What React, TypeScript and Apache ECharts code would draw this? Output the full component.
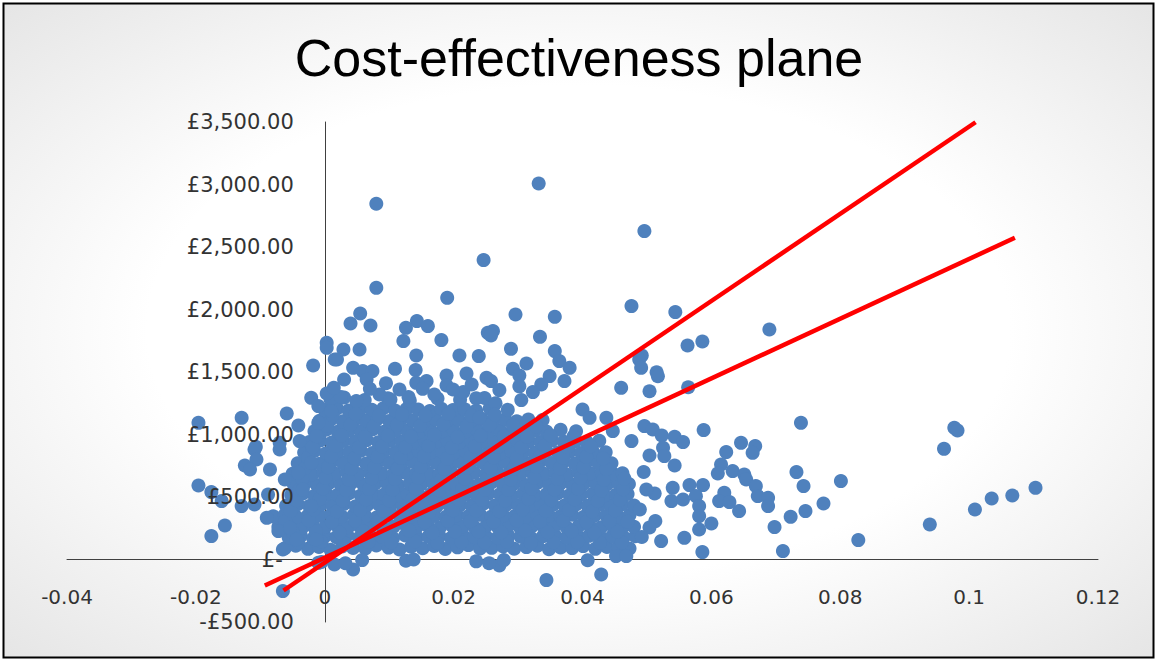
import React, { useEffect, useRef } from "react";
import * as echarts from "echarts";

// Points are [incremental QALYs x 1000, incremental cost in £]
const coreRow095 = [[-6.2,90],[-4.5,110],[-2.6,85],[-0.9,100],[0.9,78],[2.7,105],[4.4,92],[6.3,88],[8.0,112],[9.9,95],[11.6,80],[13.4,102],[15.2,90],[17.0,108],[18.7,84],[20.6,97],[22.3,115],[24.1,88],[25.9,93],[27.7,104],[29.4,86],[31.3,99],[33.0,110],[34.8,82],[36.6,96],[38.4,91],[40.1,107],[42.0,85],[43.8,100],[45.5,94],[47.3,88]];
const coreRow180 = [[-5.6,175],[-3.7,190],[-1.8,168],[0,185],[1.8,178],[3.5,195],[5.3,172],[7.1,186],[8.9,180],[10.6,170],[12.5,192],[14.3,177],[16.1,183],[17.8,188],[19.6,171],[21.4,196],[23.2,179],[25.0,184],[26.8,174],[28.5,190],[30.4,182],[32.1,169],[33.9,187],[35.7,193],[37.5,176],[39.3,181],[41.0,189],[42.9,173],[44.6,185],[46.4,178],[48.2,186]];
const coreRow265 = [[-7.2,260],[-5.3,272],[-3.5,255],[-1.8,268],[0.1,262],[1.8,275],[3.6,258],[5.4,266],[7.2,270],[9.0,254],[10.7,264],[12.5,278],[14.3,261],[16.0,269],[17.9,257],[19.7,273],[21.4,266],[23.2,259],[25.1,271],[26.8,263],[28.6,276],[30.3,256],[32.2,268],[34.0,262],[35.7,274],[37.5,260],[39.4,267],[41.1,271],[42.9,258],[44.7,265],[46.5,270],[48.0,262]];
const coreRow350 = [[-8.0,345],[-6.2,358],[-4.4,340],[-2.6,352],[-0.8,349],[1.0,360],[2.7,342],[4.5,355],[6.3,347],[8.1,338],[9.8,356],[11.6,351],[13.5,344],[15.2,359],[17.0,348],[18.8,341],[20.5,354],[22.3,346],[24.1,357],[25.9,343],[27.7,352],[29.5,348],[31.2,339],[33.0,355],[34.8,350],[36.6,346],[38.4,358],[40.2,342],[41.9,353],[43.7,349],[45.5,345],[47.3,356]];
const coreRow435 = [[-6.0,430],[-4.2,442],[-2.4,428],[-0.6,438],[1.2,432],[3.0,445],[4.8,426],[6.6,436],[8.4,440],[10.2,429],[12.0,444],[13.8,433],[15.6,437],[17.4,427],[19.2,441],[21.0,435],[22.8,430],[24.6,446],[26.4,431],[28.2,439],[30.0,434],[31.8,428],[33.6,443],[35.4,436],[37.2,432],[39.0,440],[40.8,429],[42.6,438],[44.4,434],[46.2,442],[48.0,431]];
const coreRow520 = [[-5.2,515],[-3.4,528],[-1.6,510],[0.3,522],[2.0,518],[3.8,530],[5.6,512],[7.5,524],[9.2,520],[11.1,508],[12.8,526],[14.6,517],[16.5,523],[18.2,513],[20.0,529],[21.8,519],[23.6,514],[25.4,527],[27.2,521],[29.0,511],[30.8,525],[32.6,516],[34.4,522],[36.2,531],[38.0,513],[39.8,520],[41.6,526],[43.4,512],[45.2,518],[47.0,524]];
const coreRow605 = [[-4.8,600],[-3.0,612],[-1.2,596],[0.6,608],[2.4,603],[4.2,615],[6.0,598],[7.8,606],[9.6,611],[11.4,594],[13.2,609],[15.0,602],[16.8,613],[18.6,597],[20.4,605],[22.2,610],[24.0,599],[25.8,614],[27.6,601],[29.4,607],[31.2,595],[33.0,612],[34.8,604],[36.6,609],[38.4,598],[40.2,606],[42.0,613],[43.8,600],[45.6,608],[47.2,603]];
const coreRow690 = [[-5.0,685],[-3.8,697],[-2.0,680],[-0.2,692],[1.6,688],[3.4,700],[5.2,683],[7.0,694],[8.8,689],[10.6,678],[12.4,696],[14.2,686],[16.0,691],[17.8,682],[19.6,699],[21.4,687],[23.2,693],[25.0,681],[26.8,695],[28.6,690],[30.4,684],[32.2,698],[34.0,686],[35.8,692],[37.6,680],[39.4,694],[41.2,689],[43.0,696],[44.8,683],[46.2,690]];
const coreRow775 = [[-4.2,770],[-2.6,782],[-0.8,766],[1.0,778],[2.8,773],[4.6,785],[6.4,768],[8.2,779],[10.0,774],[11.8,763],[13.6,781],[15.4,771],[17.2,777],[19.0,767],[20.8,784],[22.6,772],[24.4,778],[26.2,765],[28.0,780],[29.8,775],[31.6,769],[33.4,783],[35.2,771],[37.0,777],[38.8,766],[40.6,779],[42.4,774],[44.5,770]];
const coreRow860 = [[-3.2,855],[-1.6,868],[0.2,850],[2.0,862],[3.8,858],[5.6,870],[7.4,852],[9.2,864],[11.0,859],[12.8,848],[14.6,866],[16.4,856],[18.2,862],[20.0,851],[21.8,869],[23.6,857],[25.4,863],[27.2,850],[29.0,865],[30.8,860],[32.6,854],[34.4,868],[36.2,856],[38.0,861],[39.8,852],[41.6,864],[43.6,858]];
const coreRow945 = [[-2.4,940],[-0.7,952],[1.1,936],[2.9,948],[4.7,943],[6.5,955],[8.3,937],[10.1,949],[11.9,944],[13.7,933],[15.5,951],[17.3,941],[19.1,947],[20.9,936],[22.7,954],[24.5,942],[26.3,948],[28.1,935],[29.9,950],[31.7,945],[33.5,939],[35.3,953],[37.1,941],[38.9,946],[40.7,937],[42.6,949]];
const coreRow1030 = [[-1.6,1025],[0.2,1038],[2.0,1022],[3.8,1034],[5.6,1028],[7.4,1040],[9.2,1021],[11.0,1033],[12.8,1029],[14.6,1018],[16.4,1036],[18.2,1026],[20.0,1032],[21.8,1021],[23.6,1039],[25.4,1027],[27.2,1033],[29.0,1020],[30.8,1035],[32.6,1030],[34.4,1024],[36.6,1037],[39.0,1026]];
const coreRow1115 = [[-0.8,1110],[1.0,1122],[2.8,1106],[4.6,1118],[6.4,1113],[8.2,1125],[10.0,1107],[11.8,1119],[13.6,1114],[15.4,1103],[17.2,1121],[19.0,1111],[20.8,1117],[22.6,1106],[24.4,1124],[26.2,1112],[28.0,1118],[29.8,1105],[31.6,1120],[33.8,1115]];
const coreRow1200 = [[0.0,1195],[1.9,1208],[3.7,1191],[5.5,1203],[7.3,1198],[9.1,1210],[10.9,1192],[12.7,1204],[14.5,1199],[16.3,1188],[18.1,1206],[19.9,1196],[21.7,1202],[23.5,1191],[25.6,1209],[28.4,1197]];
const coreRow1285 = [[0.9,1280],[3.0,1295],[6.2,1275],[9.8,1290],[13.2,1270],[17.5,1288],[21.0,1278],[24.8,1292],[2.5,1300],[8.5,1320],[10.2,1280],[13.0,1300],[17.0,1320],[21.5,1340],[23.5,1290],[26.5,1250],[22.8,1400],[9.5,1410],[3.0,1440]];

// In-between points of the dense core
const fillLow = [[-4.1,135],[-0.5,142],[3.1,130],[6.8,140],[10.3,137],[14.0,145],[17.5,132],[21.2,139],[24.8,136],[28.3,143],[32.0,131],[35.5,138],[39.2,141],[42.7,134],[46.1,137],
  [-5.0,220],[-1.4,228],[2.3,215],[5.9,225],[9.4,218],[13.1,230],[16.7,214],[20.2,224],[23.9,221],[27.4,216],[31.1,229],[34.6,219],[38.3,226],[41.8,213],[45.4,222],
  [-6.1,305],[-2.5,312],[1.1,300],[4.7,309],[8.3,303],[11.9,315],[15.5,298],[19.1,308],[22.6,306],[26.2,301],[29.8,313],[33.4,304],[37.0,310],[40.6,299],[44.2,307],[47.0,302],
  [-5.3,390],[-1.7,398],[1.9,385],[5.5,395],[9.1,388],[12.7,400],[16.3,384],[19.9,394],[23.5,391],[27.1,386],[30.7,399],[34.3,389],[37.9,396],[41.5,383],[45.1,392]];
const fillMid = [[-4.4,475],[-0.8,483],[2.8,470],[6.4,480],[10.0,473],[13.6,485],[17.2,469],[20.8,479],[24.4,476],[28.0,471],[31.6,484],[35.2,474],[38.8,481],[42.4,468],[45.8,477],
  [-3.9,560],[-0.3,568],[3.3,555],[6.9,565],[10.5,558],[14.1,570],[17.7,554],[21.3,564],[24.9,561],[28.5,556],[32.1,569],[35.7,559],[39.3,566],[42.9,553],[46.3,562],
  [-3.5,645],[0.1,653],[3.7,640],[7.3,650],[10.9,643],[14.5,655],[18.1,639],[21.7,649],[25.3,646],[28.9,641],[32.5,654],[36.1,644],[39.7,651],[43.3,638],[46.5,647],
  [-3.1,730],[0.5,738],[4.1,725],[7.7,735],[11.3,728],[14.9,740],[18.5,724],[22.1,734],[25.7,731],[29.3,726],[32.9,739],[36.5,729],[40.1,736],[43.7,723]];
const fillHigh = [[-2.6,815],[1.0,823],[4.6,810],[8.2,820],[11.8,813],[15.4,825],[19.0,809],[22.6,819],[26.2,816],[29.8,811],[33.4,824],[37.0,814],[40.6,821],[43.2,808],
  [-1.9,900],[1.7,908],[5.3,895],[8.9,905],[12.5,898],[16.1,910],[19.7,894],[23.3,904],[26.9,901],[30.5,896],[34.1,909],[37.7,899],[41.3,906],
  [-1.0,985],[2.6,993],[6.2,980],[9.8,990],[13.4,983],[17.0,995],[20.6,979],[24.2,989],[27.8,986],[31.4,981],[35.0,994],[38.6,984],
  [0.4,1070],[4.0,1078],[7.6,1065],[11.2,1075],[14.8,1068],[18.4,1080],[22.0,1064],[25.6,1074],[29.2,1071],[32.8,1066],
  [1.2,1155],[4.8,1163],[8.4,1150],[12.0,1160],[15.6,1153],[19.2,1165],[22.8,1149],[26.4,1159]];

const topOutliers = [[8.0,2846],[33.2,3008],[49.6,2627],[24.65,2395],[8.0,2173],[19.0,2093],[5.5,1968],[14.3,1907],[29.6,1960],[35.7,1941],[47.6,2027],[54.4,1979],[69.0,1840],[56.3,1712],[58.6,1744],[49.2,1632]];
const upperBand = [[4.0,1888],[7.1,1872],[12.6,1853],[16.0,1867],[12.2,1747],[18.1,1755],[2.9,1680],[5.4,1680],[1.9,1600],[14.2,1632],[20.9,1632],[23.9,1627],[4.4,1533],[5.9,1507],[7.4,1507],[10.9,1525],[14.1,1515],[6.5,1440],[18.9,1472],[22.0,1488],[25.1,1453],[14.2,1413],[15.8,1427],[7.0,1365],[11.6,1360],[15.2,1365],[18.9,1392],[19.9,1360],[4.9,1267],[25.3,1813],[26.1,1827],[25.8,1792],[33.4,1781],[28.9,1685],[35.7,1667],[36.4,1587],[31.3,1568],[29.2,1525],[38.0,1533],[30.2,1472],[34.9,1467],[25.8,1427],[37.2,1427],[33.6,1400],[30.2,1385],[27.1,1355],[32.3,1339],[30.5,1275],[48.8,1600],[49.1,1533],[46.0,1373],[40.0,1200],[41.1,1133],[43.7,1133],[49.6,1067],[50.9,1040],[47.6,947],[44.7,1027],[24.0,1133]];
const leftCluster = [[0.3,1733],[0.3,1693],[-1.8,1552],[1.55,1600],[0.3,1328],[1.4,1373],[-2.1,1293],[-1.0,1227],[1.0,1187],[-5.9,1168],[-12.9,1133],[-19.6,1093],[-4.1,1072],[-1.0,1093],[-1.3,987],[-3.9,947],[-10.7,901],[-7.0,933],[-10.9,880],[-7.0,880],[-10.6,800],[-12.4,752],[-11.6,720],[-8.5,720],[-4.1,693],[-2.1,773],[-6.2,640],[-19.6,592],[-17.6,539],[-16.0,467],[-12.9,427],[-10.9,440],[-8.8,520],[-3.4,560],[-2.1,427],[-15.5,272],[-17.6,187],[-9.0,333],[-7.2,227],[-5.4,253],[-4.4,160],[-6.5,80],[-1.3,160],[-1.0,-27],[-6.5,-253]];
const rightCluster = [[51.5,1498],[51.7,1466],[50.4,1346],[56.4,1378],[73.9,1093],[58.8,1035],[52.3,992],[54.3,981],[55.6,939],[52.5,893],[52.7,827],[54.3,752],[50.4,832],[64.6,933],[66.8,907],[62.3,859],[66.4,853],[61.5,760],[61.0,688],[63.3,707],[65.1,680],[65.4,640],[66.9,587],[73.2,699],[74.3,587],[80.1,627],[51.2,528],[54.0,573],[56.6,595],[58.7,595],[53.8,467],[55.6,480],[57.6,507],[62.0,533],[61.2,467],[62.8,459],[67.2,507],[68.8,493],[68.8,427],[58.1,427],[58.1,347],[60.0,288],[58.1,240],[64.3,387],[77.4,448],[74.6,387],[72.3,341],[69.8,259],[51.3,307],[50.4,256],[52.2,147],[55.8,173],[58.6,59],[71.1,67],[49.9,560],[49.5,700],[48.9,400],[49.2,180]];
const farRight = [[97.7,1053],[98.2,1032],[96.1,885],[82.8,155],[93.9,280],[100.9,400],[103.5,488],[106.7,512],[110.3,573]];
const nearAxis = [[4.4,-80],[27.1,-48],[34.4,-165],[42.9,-120],[40.8,-6],[45.2,27],[46.8,27],[-0.5,-20],[1.5,-40],[3.2,-30],[5.8,-5],[12.6,-10],[13.8,0],[23.5,-15],[25.5,-30],[27.8,-5]];

// Threshold lines (start, end)
const lineLowerSlope = [[-9.3,-208],[107.1,2574]];
const lineUpperSlope = [[-6.4,-248],[101.0,3498]];

const xTicks = [-0.04, -0.02, 0, 0.02, 0.04, 0.06, 0.08, 0.1, 0.12];
const xTickLabels = ["-0.04", "-0.02", "0", "0.02", "0.04", "0.06", "0.08", "0.1", "0.12"];
const yTicks = [-500, 0, 500, 1000, 1500, 2000, 2500, 3000, 3500];
const yTickLabels = ["-£500.00", "£-", "£500.00", "£1,000.00", "£1,500.00", "£2,000.00", "£2,500.00", "£3,000.00", "£3,500.00"];

const toData = (arr: number[][]) => arr.map(([q, c]) => [q / 1000, c]);

const GRID = { left: 67, right: 60, top: 122, bottom: 40 };

export default function App() {
  const ref = useRef<HTMLDivElement>(null);
  useEffect(() => {
    document.body.style.margin = "0";
    if (!ref.current) return;
    const chart = echarts.init(ref.current, null, { renderer: "svg" });
    const scatterData = toData([
      ...coreRow095, ...coreRow180, ...coreRow265, ...coreRow350, ...coreRow435,
      ...coreRow520, ...coreRow605, ...coreRow690, ...coreRow775, ...coreRow860,
      ...coreRow945, ...coreRow1030, ...coreRow1115, ...coreRow1200, ...coreRow1285,
      ...fillLow, ...fillMid, ...fillHigh,
      ...topOutliers, ...upperBand, ...leftCluster, ...rightCluster, ...farRight, ...nearAxis,
    ]);
    const labelFont = "DejaVu Sans";
    const labelColor = "#333333";
    const axisColor = "#404040";
    const plotW = 1158 - GRID.left - GRID.right;
    const plotH = 662 - GRID.top - GRID.bottom;
    const xMin = xTicks[0], xMax = xTicks[xTicks.length - 1];
    const yMin = yTicks[0], yMax = yTicks[yTicks.length - 1];
    const xAxisOffset = -((0 - yMin) / (yMax - yMin)) * plotH;
    const yAxisOffset = -((0 - xMin) / (xMax - xMin)) * plotW;
    const xFormatter = (v: number) => {
      const i = xTicks.findIndex((t) => Math.abs(t - v) < 1e-9);
      return i >= 0 ? xTickLabels[i] : "";
    };
    const yFormatter = (v: number) => {
      const i = yTicks.findIndex((t) => Math.abs(t - v) < 1e-6);
      const s = i >= 0 ? yTickLabels[i] : "";
      return v === 0 ? "{z|" + s + "}" : s;
    };
    const xBase = {
      type: "value", min: xMin, max: xMax, interval: 0.02, position: "bottom", offset: xAxisOffset,
      splitLine: { show: false }, axisTick: { show: false },
    };
    const yBase = {
      type: "value", min: yMin, max: yMax, interval: 500, position: "left", offset: yAxisOffset,
      splitLine: { show: false }, axisTick: { show: false },
    };
    chart.setOption({
      animation: false,
      graphic: [
        {
          type: "rect",
          z: -100,
          silent: true,
          shape: { x: 3.5, y: 3.5, width: 1150, height: 654 },
          style: {
            fill: new echarts.graphic.RadialGradient(0.5, 0.5, 0.75, [
              { offset: 0, color: "#ffffff" },
              { offset: 0.5, color: "#ffffff" },
              { offset: 1, color: "#e2e2e2" },
            ]),
            stroke: "#000000",
            lineWidth: 2,
          },
        },
      ],
      title: {
        text: "Cost-effectiveness plane",
        left: "center",
        top: 27,
        textStyle: { fontFamily: "Liberation Sans", fontSize: 52, fontWeight: "normal", color: "#000000" },
      },
      grid: { ...GRID, containLabel: false, outerBoundsMode: "none" },
      xAxis: [
        {
          ...xBase,
          z: 0,
          axisLine: { onZero: false, lineStyle: { color: axisColor, width: 1 } },
          axisLabel: { show: false },
        },
        {
          ...xBase,
          z: 10,
          axisLine: { show: false, onZero: false },
          axisLabel: { margin: 27, fontFamily: labelFont, fontSize: 20, color: labelColor, formatter: xFormatter },
        },
      ],
      yAxis: [
        {
          ...yBase,
          z: 0,
          axisLine: { onZero: false, lineStyle: { color: axisColor, width: 1 } },
          axisLabel: { show: false },
        },
        {
          ...yBase,
          z: 10,
          axisLine: { show: false, onZero: false },
          axisLabel: {
            margin: 31,
            fontFamily: labelFont,
            fontSize: 21,
            color: labelColor,
            formatter: yFormatter,
            rich: { z: { fontFamily: labelFont, fontSize: 21, color: labelColor, padding: [0, 11, 0, 0] } },
          },
        },
      ],
      series: [
        {
          type: "scatter",
          xAxisIndex: 0,
          yAxisIndex: 0,
          data: scatterData,
          symbolSize: 14,
          itemStyle: { color: "#4F81BD", opacity: 1 },
          emphasis: { disabled: true },
          silent: true,
        },
        {
          type: "line",
          xAxisIndex: 0,
          yAxisIndex: 0,
          data: toData(lineLowerSlope),
          symbol: "none",
          lineStyle: { color: "#FF0000", width: 4.5 },
          silent: true,
        },
        {
          type: "line",
          xAxisIndex: 0,
          yAxisIndex: 0,
          data: toData(lineUpperSlope),
          symbol: "none",
          lineStyle: { color: "#FF0000", width: 4.5 },
          silent: true,
        },
      ],
    });
    return () => chart.dispose();
  }, []);
  return <div ref={ref} style={{ width: 1158, height: 662, background: "#ffffff" }} />;
}
